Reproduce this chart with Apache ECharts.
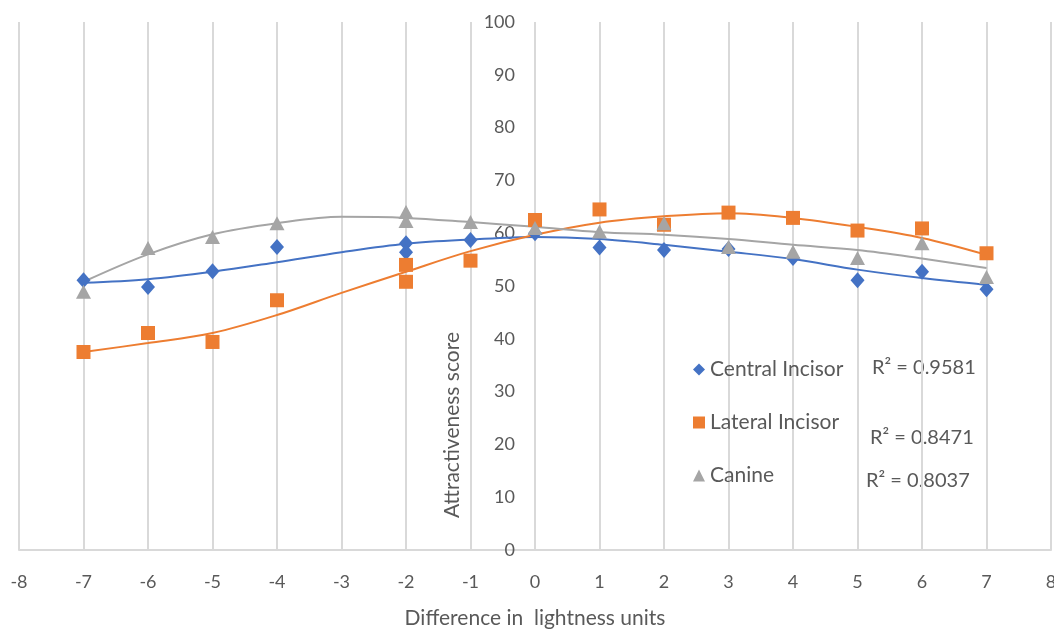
<!DOCTYPE html>
<html>
<head>
<meta charset="utf-8">
<script src="https://cdn.jsdelivr.net/npm/echarts@6/dist/echarts.min.js"></script>
<style>
html,body{margin:0;padding:0;background:#fff;}
#c{width:1054px;height:630px;}
</style>
</head>
<body>
<div id="c"></div>
<script>
// Data
const xValues = [-7, -6, -5, -4, -2, -2, -1, 0, 1, 2, 3, 4, 5, 6, 7];
const centralIncisor = [51.1, 49.8, 52.8, 57.4, 58.1, 56.4, 58.7, 60.0, 57.3, 56.8, 57.0, 55.3, 51.1, 52.7, 49.4];
const lateralIncisor = [37.5, 41.1, 39.4, 47.3, 54.0, 50.8, 54.8, 62.5, 64.5, 61.6, 63.9, 62.9, 60.5, 60.9, 56.2];
const canine = [48.9, 57.2, 59.3, 61.9, 64.0, 62.3, 62.1, 61.0, 60.3, 61.9, 57.4, 56.5, 55.3, 58.1, 51.7];

// Trendline values read at integer positions
const trendX = [-7, -6, -5, -4, -3, -2, -1, 0, 1, 2, 3, 4, 5, 6, 7];
const centralTrend = [50.6, 51.3, 52.7, 54.5, 56.4, 58.0, 58.8, 59.3, 58.9, 57.8, 56.5, 55.1, 53.1, 51.5, 50.2];
const lateralTrend = [37.5, 39.2, 41.1, 44.5, 48.7, 52.7, 56.6, 59.7, 62.0, 63.2, 63.8, 62.9, 61.2, 59.1, 55.9];
const canineTrend = [50.8, 56.0, 59.8, 61.9, 63.1, 62.9, 62.1, 61.2, 60.2, 59.7, 58.9, 57.8, 56.8, 55.2, 53.4];

const seriesNames = ['Central Incisor', 'Lateral Incisor', 'Canine'];
const rSquared = ['R\u00B2 = 0.9581', 'R\u00B2 = 0.8471', 'R\u00B2 = 0.8037'];
const xTitle = 'Difference in  lightness units';
const yTitle = 'Attractiveness score';

const colors = ['#4472C4', '#ED7D31', '#A5A5A5'];
const FONT = 'Lato';
const TXT = '#595959';

function pairs(xs, ys) { return xs.map((x, i) => [x, ys[i]]); }

const chart = echarts.init(document.getElementById('c'), null, {renderer: 'canvas'});

const scatterData = [centralIncisor, lateralIncisor, canine];
const trendData = [centralTrend, lateralTrend, canineTrend];
const symbols = ['diamond', 'rect', 'triangle'];
const symbolSizes = [[14, 16], 14, [15, 14]];

const series = [];
trendData.forEach((t, i) => {
  series.push({
    type: 'line', name: seriesNames[i] + ' trend', data: pairs(trendX, t),
    smooth: 0.35, showSymbol: false, silent: true, z: 2,
    lineStyle: {color: colors[i], width: 2}
  });
});
scatterData.forEach((d, i) => {
  series.push({
    type: 'scatter', name: seriesNames[i], data: pairs(xValues, d),
    symbol: symbols[i], symbolSize: symbolSizes[i], z: 3 + i,
    itemStyle: {color: colors[i], opacity: 1}
  });
});

const rPos = [[872, 368], [870, 438], [866, 481]];

const GRID_LEFT = 19, GRID_RIGHT = 3;
const plotW = 1054 - GRID_LEFT - GRID_RIGHT;

chart.setOption({
  animation: false,
  backgroundColor: '#fff',
  grid: {left: GRID_LEFT, right: GRID_RIGHT, top: 22, bottom: 80, containLabel: false, outerBoundsMode: 'none'},
  xAxis: {
    type: 'value', min: -8, max: 8, interval: 1,
    name: xTitle, nameLocation: 'middle', nameGap: 58,
    nameTextStyle: {fontFamily: FONT, fontSize: 21, color: TXT},
    axisLine: {show: true, onZero: false, lineStyle: {color: '#d9d9d9', width: 2}},
    axisTick: {show: false},
    axisLabel: {fontFamily: FONT, fontSize: 18, color: TXT, margin: 23},
    splitLine: {show: true, lineStyle: {color: '#d9d9d9', width: 2}}
  },
  yAxis: {
    type: 'value', min: 0, max: 100, interval: 10,
    position: 'left', offset: -plotW / 2,
    axisLine: {show: false, onZero: false},
    axisTick: {show: false},
    axisLabel: {fontFamily: FONT, fontSize: 18, color: TXT, margin: 20},
    splitLine: {show: false}
  },
  legend: {
    orient: 'vertical', left: 688, top: 354, itemGap: 32,
    itemWidth: 12, itemHeight: 12,
    data: seriesNames.map((n, i) => ({name: n, icon: symbols[i]})),
    textStyle: {fontFamily: FONT, fontSize: 21, color: TXT}
  },
  graphic: [
    {type: 'text', x: 452, y: 425, rotation: Math.PI / 2,
     style: {text: yTitle, fontFamily: FONT, fontSize: 21, fill: TXT, align: 'center', verticalAlign: 'middle'}}
  ].concat(rSquared.map((t, i) => ({
    type: 'text', x: rPos[i][0], y: rPos[i][1],
    style: {text: t, fontFamily: FONT, fontSize: 20, fill: TXT, align: 'left', verticalAlign: 'middle'}
  }))),
  series: series
});
</script>
</body>
</html>
